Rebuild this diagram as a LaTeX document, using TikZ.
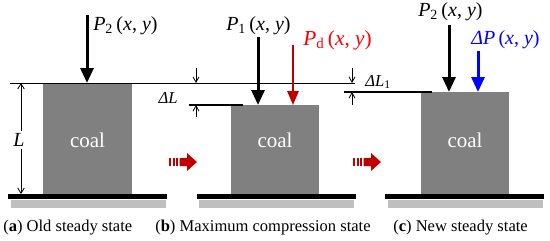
\documentclass[tikz,border=0pt]{standalone}
\usepackage{fontspec}
\setmainfont{Liberation Serif}
\usetikzlibrary{arrows.meta}

\definecolor{coalgray}{RGB}{128,128,128}
\definecolor{basegray}{RGB}{191,191,191}
\definecolor{darkred}{RGB}{192,0,0}
\definecolor{labelred}{RGB}{255,0,0}
\definecolor{labelblue}{RGB}{0,0,255}

\newcommand{\pxy}[2]{\textit{#1}\textsubscript{#2}\,(\textit{x}, \textit{y})}

\begin{document}
\begin{tikzpicture}[x=0.75pt,y=-0.75pt,
    load/.style={line width=2.25pt,-{Triangle[length=11.25pt,width=9.75pt]}},
    gapmark/.style={line width=0.6pt,-{Straight Barb[length=4pt,width=4.5pt]}},
    coallabel/.style={text=white,font=\fontsize{15.75}{18}\selectfont},
    forcelabel/.style={anchor=west,inner sep=0pt,font=\fontsize{15}{18}\selectfont},
    smalllabel/.style={inner sep=0pt,font=\fontsize{12.5}{14}\selectfont},
    caption/.style={anchor=west,inner sep=0pt,font=\fontsize{12.4}{15}\selectfont}]
      \useasboundingbox (0,0) rectangle (550,240);

      % Bases (black plate on grey support)
      \fill[basegray] (11,200) rectangle (166,208);
      \fill[black] (8,194) rectangle (167,199);
      \fill[basegray] (199,200) rectangle (354,208);
      \fill[black] (197,194) rectangle (356,199);
      \fill[basegray] (388,200) rectangle (543,208);
      \fill[black] (385,194) rectangle (544,199);

      % Coal samples
      \fill[coalgray] (43,83) rectangle (132,194);
      \node[coallabel] (coal-a) at (87.5,140) {coal};
      \fill[coalgray] (231,105) rectangle (319,194);
      \node[coallabel] (coal-b) at (275,140) {coal};
      \fill[coalgray] (421,92) rectangle (509,194);
      \node[coallabel] (coal-c) at (465,140) {coal};

      % Reference levels
      \draw[line width=0.75pt] (10,83) -- (355,83);
      \draw[line width=0.9pt] (189,105) -- (243,105);
      \draw[line width=0.9pt] (344,92) -- (432,92);

      % Height L
      \coordinate (l-top) at (21,83);
      \coordinate (l-bot) at (21,194);
      \draw[line width=0.6pt,{Straight Barb[length=4pt,width=5pt]}-{Straight Barb[length=4pt,width=5pt]}] (l-top) -- (l-bot);
      \node[fill=white,inner sep=2pt,font=\fontsize{15}{18}\selectfont] (l-label) at (19,140) {\textit{L}};

      % Compression Delta L
      \coordinate (dl-up) at (196,68);
      \coordinate (dl-top) at (196,83);
      \coordinate (dl-low) at (196,117);
      \coordinate (dl-bot) at (196,105);
      \draw[gapmark] (dl-up) -- (dl-top);
      \draw[gapmark] (dl-low) -- (dl-bot);
      \node[smalllabel,anchor=east] (dl-label) at (178,98) {\textit{ΔL}};

      % Rebound Delta L1
      \coordinate (dla-up) at (352,68);
      \coordinate (dla-top) at (352,83);
      \coordinate (dla-low) at (352,105);
      \coordinate (dla-bot) at (352,92);
      \draw[gapmark] (dla-up) -- (dla-top);
      \draw[gapmark] (dla-low) -- (dla-bot);
      \node[smalllabel,anchor=west] (dla-label) at (365,82) {\textit{ΔL}\textsubscript{1}};

      % ==== (a) Old steady state ====
      \coordinate (pa-tail) at (87,15);
      \coordinate (pa-head) at (87,83);
      \draw[load] (pa-tail) -- (pa-head);
      \node[forcelabel] (pa-label) at (93,26) {\pxy{P}{2}};

      % ==== (b) Maximum compression state ====
      \coordinate (pb-tail) at (258,37);
      \coordinate (pb-head) at (258,105);
      \draw[load] (pb-tail) -- (pb-head);
      \node[forcelabel] (pb-label) at (226,26) {\pxy{P}{1}};

      \coordinate (pd-tail) at (293,45);
      \coordinate (pd-head) at (293,105);
      \draw[darkred,line width=1.6pt,-{Triangle[length=10.5pt,width=8.5pt]}] (pd-tail) -- (pd-head);
      \node[forcelabel,text=labelred,font=\fontsize{16}{18}\selectfont] (pd-label) at (303,40) {\pxy{P}{d}};

      % ==== (c) New steady state ====
      \coordinate (pc-tail) at (449,25);
      \coordinate (pc-head) at (449,92);
      \draw[load] (pc-tail) -- (pc-head);
      \node[forcelabel] (pc-label) at (418,12) {\pxy{P}{2}};

      \coordinate (dp-tail) at (478,51);
      \coordinate (dp-head) at (478,92);
      \draw[labelblue,load] (dp-tail) -- (dp-head);
      \node[forcelabel,text=labelblue] (dp-label) at (471,40) {\textit{ΔP}\,(\textit{x}, \textit{y})};

      % Transition arrows
      \foreach \sx in {0,184} {
        \fill[darkred] (169+\sx,158) rectangle (171+\sx,166);
        \fill[darkred] (172.5+\sx,158) rectangle (174.5+\sx,166);
        \fill[darkred] (176+\sx,158) rectangle (178+\sx,166);
        \fill[darkred] (179.5+\sx,158) -- (187+\sx,158) -- (187+\sx,153) -- (197+\sx,162)
          -- (187+\sx,171) -- (187+\sx,166) -- (179.5+\sx,166) -- cycle;
      }

      % Captions
      \node[caption] (cap-a) at (3,228) {(\textbf{a}) Old steady state};
      \node[caption] (cap-b) at (155,228) {(\textbf{b}) Maximum compression state};
      \node[caption] (cap-c) at (393,228) {(\textbf{c}) New steady state};

\end{tikzpicture}
\end{document}
